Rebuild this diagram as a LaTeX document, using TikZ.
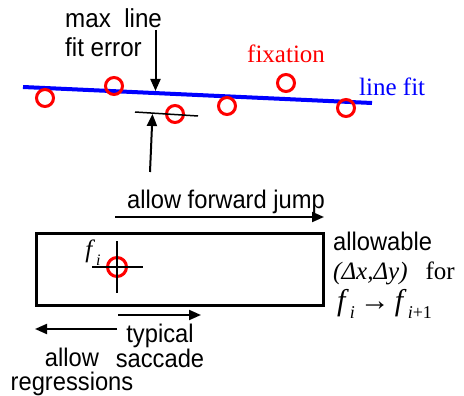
\documentclass[tikz,border=0pt]{standalone}
\usepackage{fontspec}
\setmainfont{Liberation Serif}
\setsansfont{Liberation Sans}
\newfontfamily\narrowsans[FakeStretch=0.93]{Liberation Sans}
\usetikzlibrary{arrows.meta}
\newcommand{\fv}[2]{\textit{f}\kern1pt\raisebox{-0.28em}{\fontsize{#2}{#2}\selectfont\textit{#1}}}

\begin{document}
\begin{tikzpicture}[x=1pt,y=-1pt,
  sf/.style={font=\fontsize{25.5}{26}\selectfont\narrowsans,inner sep=0pt},
  rm/.style={font=\fontsize{25}{28}\selectfont,inner sep=0pt},
  fix/.style={circle,draw=red,line width=3pt,minimum size=17pt,inner sep=0pt},
  fl/.style={-{Triangle[length=12pt,width=10pt]},line width=2pt},
  hair/.style={line width=2pt}]
\useasboundingbox (0,0) rectangle (464,396);
% line fit and fixations
\coordinate (fit0) at (23,87);
\coordinate (fit1) at (372,103);
\draw[blue,line width=4pt] (fit0) -- (fit1);
\node[fix] (c1) at (45,98) {};
\node[fix] (c2) at (114,86) {};
\node[fix] (c3) at (175,114) {};
\node[fix] (c4) at (227,106) {};
\node[fix] (c5) at (286,83) {};
\node[fix] (c6) at (346,108) {};
\node[rm,red,anchor=base west] (fixlbl) at (247,63) {fixation};
\node[rm,blue,anchor=base west] (fitlbl) at (359,96) {line fit};
% max line fit error
\node[sf,anchor=west,align=left,font=\fontsize{26}{27}\selectfont\narrowsans] (errlbl) at (65,33) {max\ \ line\\[2pt]fit error};
\coordinate (errtop) at (155.5,30);
\coordinate (errbot) at (155.5,91);
\draw[fl] (errtop) -- (errbot);
\coordinate (tick0) at (135,112);
\coordinate (tick1) at (198,116);
\draw[line width=1.5pt] (tick0) -- (tick1);
\coordinate (uptail) at (150,172);
\coordinate (uptip) at (152.5,114);
\draw[fl] (uptail) -- (uptip);
% allowable region
\node[draw,line width=3pt,minimum width=287pt,minimum height=72pt,inner sep=0pt] (box) at (179.5,269.5) {};
\node[sf,anchor=base] (jumplbl) at (226,208) {allow forward jump};
\coordinate (jump0) at (115,217);
\coordinate (jump1) at (324,217);
\draw[fl] (jump0) -- (jump1);
\node[circle,draw=red,line width=3pt,minimum size=19pt,inner sep=0pt] (fi) at (117,267) {};
\coordinate (vt) at (117,241);
\coordinate (vb) at (117,293);
\coordinate (hl) at (92,267);
\coordinate (hr) at (143,267);
\draw[hair] (vt) -- (vb);
\draw[hair] (hl) -- (hr);
\node[rm,anchor=base,font=\fontsize{25}{25}\selectfont] (filbl) at (93,258) {\fv{i}{16}};
\node[sf,anchor=base west] (alw1) at (333,250) {allowable};
\node[rm,anchor=base west,font=\fontsize{25}{25}\selectfont] (alw2) at (333,279) {\textit{(Δx,Δy)}\hspace{18pt}for};
\node[rm,anchor=base west,font=\fontsize{30}{30}\selectfont] (alw3) at (337,310) {\fv{i}{18}\,→\,\fv{i\textup{+1}}{18}};
% saccades and regressions
\coordinate (sac0) at (118,315);
\coordinate (sac1) at (201,315);
\draw[fl] (sac0) -- (sac1);
\coordinate (reg0) at (117,329);
\coordinate (reg1) at (35,329);
\draw[fl] (reg0) -- (reg1);
\node[sf,anchor=base] (typ1) at (160,342) {typical};
\node[sf,anchor=base] (typ2) at (160,367) {saccade};
\node[sf,anchor=base] (reg1lbl) at (72,366) {allow};
\node[sf,anchor=base] (reg2lbl) at (72,390) {regressions};
\end{tikzpicture}
\end{document}
